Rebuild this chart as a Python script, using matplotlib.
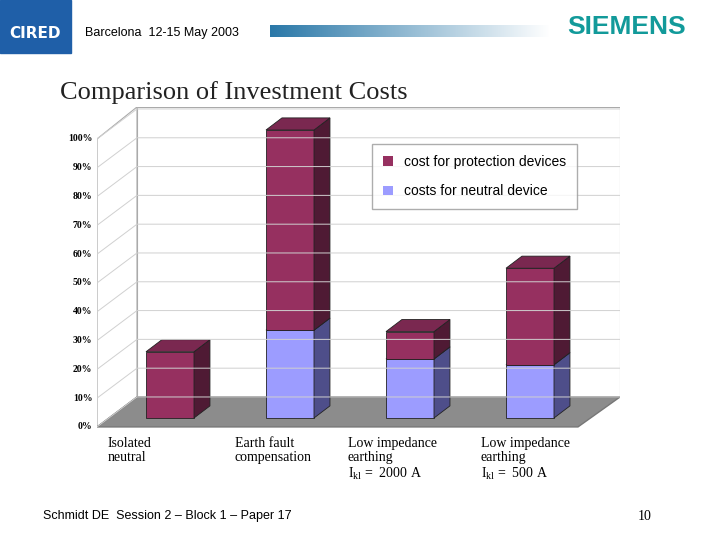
import numpy as np
import matplotlib.pyplot as plt
from matplotlib.patches import Polygon, Rectangle, Patch

categories = ["Isolated\nneutral", "Earth fault\ncompensation",
              "Low impedance\nearthing\nI$_{\\mathregular{kl}}$ =  2000 A",
              "Low impedance\nearthing\nI$_{\\mathregular{kl}}$ =  500 A"]
label_shift = [-0.52, -0.46, -0.52, -0.41]
neutral = [0, 30.5, 20.5, 18.5]
protection = [23, 69.5, 9.5, 33.5]
ticks = list(range(0, 101, 10))

c_prot = ("#963060", "#4f1a34", "#7a2850")
c_neu = ("#9c9cff", "#4e4e8a", "#7e7ed8")

fig = plt.figure(figsize=(7.2, 5.4), dpi=100)

# overlay axes in pixel coords for slide decorations
deco = fig.add_axes([0, 0, 1, 1])
deco.set_xlim(0, 720); deco.set_ylim(540, 0); deco.axis("off")
deco.add_patch(Rectangle((0, 0), 71, 53, color="#1f5fa8"))
deco.text(35, 38, "CIRED", color="white", fontsize=11, fontweight="bold", ha="center")
deco.text(85, 33, "Barcelona  12-15 May 2003", fontsize=9, va="center", family="Liberation Sans")
grad = np.linspace(0, 1, 256).reshape(1, -1)
deco.imshow(grad, extent=(270, 550, 37, 25), cmap=plt.cm.colors.LinearSegmentedColormap.from_list("g", ["#2a78a8", "#ffffff"]), aspect="auto")
deco.text(627, 27, "SIEMENS", color="#129a9a", fontsize=19, fontweight="bold", ha="center", va="center", family="Liberation Sans")
deco.text(60, 93, "Comparison of Investment Costs", fontsize=19, family="Liberation Serif", va="center", color="#222222")
deco.text(43, 516, "Schmidt DE  Session 2 \u2013 Block 1 \u2013 Paper 17", fontsize=9, va="center", family="Liberation Sans")
deco.text(652, 516, "10", fontsize=10, va="center", ha="right", family="Liberation Serif")

# chart axes: x = bar index, y = percent
x0, x1, y0, y1 = 97, 620, 107, 428
ax = fig.add_axes([x0 / 720, (540 - y1) / 540, (x1 - x0) / 720, (y1 - y0) / 540])
ax.set_xlim((x0 - 170) / 120, (x1 - 170) / 120)
ax.set_ylim((418 - y1) / 2.88, (418 - y0) / 2.88)
ax.axis("off")

fx0, fx1, bx0, bx1 = -0.608, 3.40, -0.275, 3.75
fv, bv = -3.1, 7.3
ax.add_patch(Polygon([(bx0, bv), (bx1, bv), (bx1, 108), (bx0, 108)], fc="white", ec="#aaaaaa", lw=0.8))
ax.add_patch(Polygon([(fx0, fv), (bx0, bv), (bx0, 108), (fx0, 96.9)], fc="white", ec="#aaaaaa", lw=0.8))
for t in ticks:
    ax.plot([fx0, bx0, bx1], [fv + t, bv + t, bv + t], color="#d0d0d0", lw=0.7)
    ax.text(fx0 - 0.04, fv + t, f"{t}%", ha="right", va="center", fontsize=7,
            family="Liberation Serif", fontweight="bold")
ax.add_patch(Polygon([(fx0, fv), (fx1, fv), (bx1, bv), (bx0, bv)], fc="#8c8c8c", ec="#777777"))

w, dx, dy = 0.4, 0.133, 4.2
def box(x, b, h, cols):
    if h <= 0:
        return
    l, r = x - w / 2, x + w / 2
    ax.add_patch(Polygon([(l, b), (r, b), (r, b + h), (l, b + h)], fc=cols[0], ec="#222222", lw=0.6))
    ax.add_patch(Polygon([(r, b), (r + dx, b + dy), (r + dx, b + h + dy), (r, b + h)], fc=cols[1], ec="#222222", lw=0.6))
    ax.add_patch(Polygon([(l, b + h), (r, b + h), (r + dx, b + h + dy), (l + dx, b + h + dy)], fc=cols[2], ec="#222222", lw=0.6))

for i, (n, p) in enumerate(zip(neutral, protection)):
    box(i, 0, n, c_neu)
    box(i, n, p, c_prot)

for i, c in enumerate(categories):
    ax.text(i + label_shift[i], -6.5, c, ha="left", va="top",
            fontsize=10, family="Liberation Serif", linespacing=1.15)

ax.legend(handles=[Patch(fc=c_prot[0]), Patch(fc=c_neu[0])],
          labels=["cost for protection devices", "costs for neutral device"],
          loc="upper left", bbox_to_anchor=((365 - 170) / 120, (418 - 137) / 2.88),
          bbox_transform=ax.transData, frameon=True, fancybox=False, edgecolor="#999999",
          handlelength=0.7, handleheight=0.7, labelspacing=1.1,
          borderpad=0.8, prop={"family": "Liberation Sans", "size": 10})

fig.savefig("out.png", dpi=100)
